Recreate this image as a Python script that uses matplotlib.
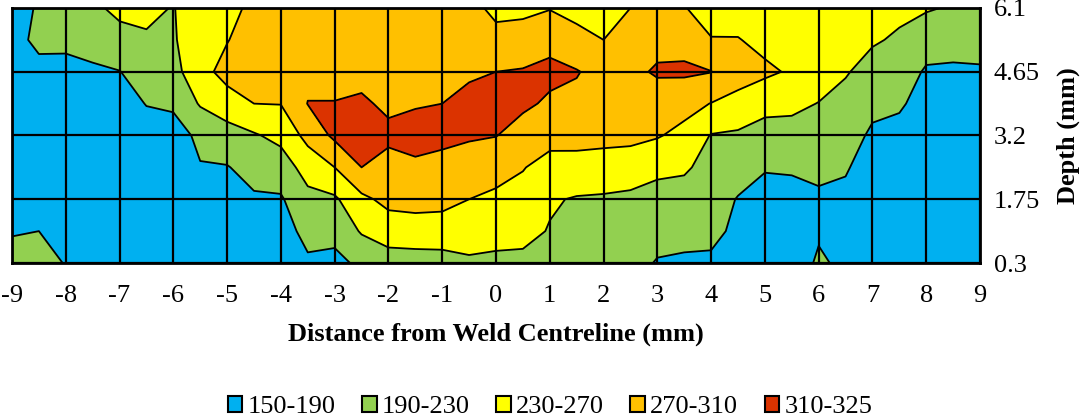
import matplotlib
matplotlib.use("Agg")
import matplotlib.pyplot as plt
from matplotlib.patches import Patch
import numpy as np

plt.rcParams['font.family'] = ['Liberation Serif', 'DejaVu Serif']

# distance from weld centreline (mm) and depth (mm) of the hardness grid
distance = [-9, -8.5, -8, -7.5, -7, -6.5, -6, -5.5, -5, -4.5, -4, -3.5, -3, -2.5, -2, -1.5, -1, -0.5,
            0, 0.5, 1, 1.5, 2, 2.5, 3, 3.5, 4, 4.5, 5, 5.5, 6, 6.5, 7, 7.5, 8, 8.5, 9]
depth = [0.3, 1.025, 1.75, 2.475, 3.2, 3.925, 4.65, 5.375, 6.1]

# hardness (HV), one list per distance, from bottom (0.3) to top (6.1)
hardness_by_x = [
    [200, 188, 178, 172, 168, 166, 170, 178, 182],
    [205, 190, 176, 170, 166, 168, 180, 198, 192],
    [188, 180, 172, 168, 168, 172, 182, 196, 212],
    [178, 172, 168, 166, 168, 175, 186, 200, 222],
    [175, 170, 166, 165, 168, 178, 189, 216, 240],
    [172, 168, 166, 168, 178, 191, 208, 225, 240],
    [170, 168, 170, 175, 182, 193, 218, 225, 228],
    [170, 172, 180, 189, 194, 234, 255, 262, 256],
    [168, 172, 180, 188, 214, 251, 285, 268, 262],
    [168, 174, 185, 204, 226, 270, 288, 292, 276],
    [170, 176, 186, 210, 241, 271, 292, 295, 292],
    [185, 200, 219, 246, 282, 311, 300, 296, 294],
    [182, 199, 224, 270, 318, 311, 300, 296, 294],
    [196, 234, 261, 310, 320, 314, 302, 296, 294],
    [212, 249, 281, 300, 316, 305, 300, 296, 294],
    [212, 253, 283, 305, 320, 308, 300, 296, 294],
    [215, 251, 282, 300, 318, 310, 302, 297, 294],
    [224, 248, 270, 293, 314, 318, 306, 295, 280],
    [222, 243, 262, 285, 311, 322, 310, 280, 262],
    [222, 240, 256, 272, 296, 316, 313, 285, 262],
    [218, 228, 234, 255, 284, 305, 318, 300, 268],
    [212, 216, 227, 257, 282, 302, 312, 285, 255],
    [212, 215, 225, 255, 280, 295, 298, 270, 250],
    [200, 210, 222, 250, 280, 295, 302, 292, 270],
    [188, 200, 214, 240, 273, 293, 314, 300, 288],
    [186, 198, 212, 236, 259, 283, 316, 298, 272],
    [186, 196, 207, 215, 228, 269, 311, 272, 252],
    [172, 185, 188, 206, 224, 259, 285, 272, 250],
    [165, 168, 175, 193, 217, 240, 278, 258, 248],
    [163, 166, 172, 196, 217, 238, 265, 255, 248],
    [197, 184, 183, 200, 212, 229, 248, 252, 245],
    [180, 176, 180, 194, 206, 218, 233, 245, 242],
    [168, 165, 165, 170, 184, 199, 216, 234, 240],
    [165, 163, 163, 167, 178, 195, 208, 225, 238],
    [162, 160, 160, 162, 166, 175, 186, 205, 234],
    [160, 158, 158, 160, 164, 172, 185, 202, 226],
    [160, 158, 158, 160, 165, 174, 187, 200, 215],
]

levels = [150, 190, 230, 270, 310, 325]
band_labels = ['150-190', '190-230', '230-270', '270-310', '310-325']
band_colors = ['#00B0F0', '#92D050', '#FFFF00', '#FFC000', '#DB3300']
depth_ticks = [0.3, 1.75, 3.2, 4.65, 6.1]
depth_labels = ['0.3', '1.75', '3.2', '4.65', '6.1']
x_ticks = list(range(-9, 10))

hv = np.array(hardness_by_x).T

fig = plt.figure(figsize=(10.81, 4.2), dpi=100)
ax = fig.add_axes([12/1081, 157/420, 968/1081, 255/420])

ax.contourf(distance, depth, hv, levels=levels, colors=band_colors)
ax.contour(distance, depth, hv, levels=levels[1:-1], colors='black', linewidths=1.3)

ax.set_xlim(-9, 9)
ax.set_ylim(0.3, 6.1)
ax.set_xticks(x_ticks)
ax.set_xticklabels([str(t) for t in x_ticks])
ax.yaxis.tick_right()
ax.yaxis.set_label_position('right')
ax.set_yticks(depth_ticks)
ax.set_yticklabels(depth_labels)
ax.tick_params(axis='both', length=0, labelsize=19)
ax.tick_params(axis='x', pad=16)
ax.tick_params(axis='y', pad=10)

ax.set_axisbelow(False)
ax.grid(True, color='black', linewidth=1.6)
for s in ax.spines.values():
    s.set_linewidth(2)

ax.set_xlabel('Distance from Weld Centreline (mm)', fontsize=19, fontweight='bold', labelpad=11)
ax.set_ylabel('Depth (mm)', fontsize=19, fontweight='bold', labelpad=12)

handles = [Patch(facecolor=c, edgecolor='black', linewidth=1.5, label=l)
           for c, l in zip(band_colors, band_labels)]
fig.legend(handles=handles, loc='center', bbox_to_anchor=(550/1081, 1 - 407/420), ncol=5,
           frameon=False, fontsize=19, handlelength=0.55, handleheight=0.55,
           handletextpad=0.2, columnspacing=1.0, borderaxespad=0)

plt.savefig('out.png', dpi=100)
